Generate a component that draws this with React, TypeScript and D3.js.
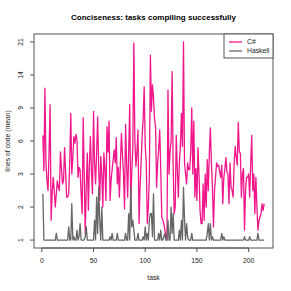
import * as d3 from 'd3';

const csharp = [
  6.5, 3.3, 12, 4, 2.8, 2.5, 5, 9.5, 1.6, 2.4,
  2.9, 2.5, 2.0, 2.4, 2.8, 2.6, 2.5, 5.0, 3.5, 2.7,
  2.8, 5.4, 3.2, 2.3, 2.3, 2.4, 4.0, 8.5, 3.0, 4.5,
  6.4, 5.8, 6.6, 6.1, 2.9, 3.6, 3.4, 2.4, 1.8, 8.1,
  3.0, 1.2, 2.6, 4.9, 1.9, 3.8, 6.4, 3.2, 2.4, 8.7,
  4.0, 2.7, 5.0, 8.2, 3.5, 2.2, 4.6, 3.0, 2.0, 4.9,
  3.5, 2.2, 7.3, 5.0, 7.8, 2.2, 2.8, 3.4, 4.3, 5.2,
  4.0, 6.3, 2.7, 3.6, 2.3, 4.0, 6.7, 4.7, 3.0, 1.95,
  7.5, 4.0, 2.3, 5.0, 9.5, 2.0, 3.2, 5.4, 20.8, 6.0,
  3.7, 5.0, 7.0, 1.5, 2.6, 4.0, 6.4, 8.0, 12.2, 5.5,
  4.0, 1.5, 2.0, 2.9, 18.2, 8.7, 12.5, 10.5, 8.0, 7.3,
  2.6, 4.0, 5.2, 7.0, 3.5, 1.7, 1.6, 1.5, 1.3, 1.1,
  1.0, 11.7, 3.0, 5.0, 6.0, 14.7, 3.8, 1.8, 2.0, 6.5,
  3.5, 2.3, 4.0, 5.5, 8.5, 5.5, 21, 4.0, 3.0, 2.7,
  4.0, 3.4, 3.4, 5.0, 9.0, 3.0, 7.8, 2.3, 3.5, 2.2,
  5.4, 3.0, 1.9, 1.5, 1.5, 2.7, 1.6, 3.0, 2.0, 4.3,
  2.5, 4.9, 7.2, 4.0, 2.6, 1.4, 2.5, 2.9, 4.0, 3.7,
  3.8, 3.2, 2.9, 3.8, 2.1, 2.9, 3.4, 4.5, 3.2, 3.0,
  2.1, 4.0, 2.6, 2.5, 2.3, 4.0, 5.5, 4.5, 3.8, 7.7,
  5.0, 4.9, 2.3, 3.0, 3.5, 1.3, 2.5, 2.9, 2.9, 3.0,
  2.3, 4.0, 6.5, 2.5, 3.0, 1.8, 2.9, 2.0, 1.3, 1.6,
  1.7, 1.8, 2.1, 1.9, 2.1,
];

const haskell = [
  2.4, 1, 1, 1, 1, 1, 1, 1, 1, 1,
  1, 1, 1, 1.2, 1, 1, 1, 1, 1, 1,
  1, 1, 1, 1, 1, 1.4, 1, 1, 2.1, 1,
  1.1, 1, 1, 1.3, 1, 1.1, 1.5, 1, 1, 1,
  1, 1.1, 1.4, 1, 1, 1, 1, 1, 1, 1,
  1.6, 1, 2.3, 1.2, 2.6, 1.6, 1, 2.0, 1, 1,
  1, 1, 1, 1, 1, 1.1, 1, 1.2, 1, 1,
  1, 1, 1.2, 1, 1, 1, 1, 1, 1, 1,
  1.2, 1, 1, 1.8, 1, 2.6, 1.4, 1.6, 1.3, 1,
  1, 1, 1.2, 1, 1, 1, 1, 1.1, 1, 1.4,
  1, 1.2, 1, 1.6, 1.8, 1.8, 1.1, 2.4, 1, 1,
  1, 1, 1.2, 1, 1.3, 1, 1, 1.1, 1.2, 1,
  1, 1.6, 1, 1, 2.0, 1.2, 1.8, 1, 1, 1,
  1, 1, 1.3, 1, 1.6, 1, 2.6, 1.6, 1, 1.5,
  1.1, 1, 1, 1, 1.2, 1, 1, 1, 1, 1,
  1, 1, 1, 1, 1, 1, 1, 1, 1, 1.2,
  1.5, 1, 1.5, 1, 1.1, 1, 1, 1, 1, 1,
  1, 1, 1, 1.2, 1, 1.1, 1, 1, 1, 1,
  1, 1, 1, 1, 1, 1, 1, 1, 1, 1,
  1, 1, 1, 1, 1, 1.1, 1, 1, 1, 1,
  1.1, 1, 1, 1, 1, 1, 1, 1, 1.2, 1,
  1, 1, 1, 1, 1,
];

const yTicks = [1, 2, 3, 6, 9, 14, 21];
const xTicks = [0, 50, 100, 150, 200];
const seriesNames = ['C#', 'Haskell'];
const seriesColors = ['#f0168c', '#666666'];

const W = 291;
const H = 291;
const box = { left: 34, right: 273, top: 34, bottom: 248 };
const font = '"Liberation Sans", Arial, sans-serif';

export default function App() {
  const n = csharp.length;
  const pad = 0.04 * (n - 1);
  const x = d3.scaleLinear().domain([1 - pad, n + pad]).range([box.left, box.right]);

  // ticks sit evenly spaced; the y scale is piecewise through them
  const yPad = (box.bottom - box.top) * 0.04 / 1.08;
  const yTop = box.top + yPad;
  const yBot = box.bottom - yPad;
  const step = (yBot - yTop) / (yTicks.length - 1);
  const y = d3
    .scaleLinear()
    .domain(yTicks)
    .range(yTicks.map((_, i) => yBot - i * step));

  const line = d3
    .line<number>()
    .x((_, i) => x(i + 1))
    .y((d) => y(d));

  const cx = (box.left + box.right) / 2;
  const cy = (box.top + box.bottom) / 2;

  return (
    <svg
      width={W}
      height={H}
      style={{ position: 'fixed', left: 0, top: 0, background: '#fff' }}
      fontFamily={font}
    >
      <rect width={W} height={H} fill="#fff" />
      <text x={cx} y={20} textAnchor="middle" fontSize={8} fontWeight="bold" fill="#000">
        Conciseness: tasks compiling successfully
      </text>

      <path d={line(csharp) ?? ''} fill="none" stroke={seriesColors[0]} strokeWidth={1.3} strokeLinejoin="round" />
      <path d={line(haskell) ?? ''} fill="none" stroke={seriesColors[1]} strokeWidth={1.3} strokeLinejoin="round" />

      <rect
        x={box.left}
        y={box.top}
        width={box.right - box.left}
        height={box.bottom - box.top}
        fill="none"
        stroke="#555"
        strokeWidth={1}
      />

      {/* x axis */}
      <line x1={x(xTicks[0])} x2={x(xTicks[xTicks.length - 1])} y1={box.bottom} y2={box.bottom} stroke="#555" />
      {xTicks.map((t) => (
        <g key={t}>
          <line x1={x(t)} x2={x(t)} y1={box.bottom} y2={box.bottom + 4} stroke="#555" />
          <text x={x(t)} y={box.bottom + 15} textAnchor="middle" fontSize={6.8} fill="#222">
            {t}
          </text>
        </g>
      ))}
      <text x={cx} y={280} textAnchor="middle" fontSize={6.8} fill="#222">
        task
      </text>

      {/* y axis */}
      {yTicks.map((t) => (
        <g key={t}>
          <line x1={box.left - 4} x2={box.left} y1={y(t)} y2={y(t)} stroke="#555" />
          <text
            transform={`translate(${box.left - 11},${y(t)}) rotate(-90)`}
            textAnchor="middle"
            fontSize={6.8}
            fill="#222"
          >
            {t}
          </text>
        </g>
      ))}
      <text
        transform={`translate(10,${cy}) rotate(-90)`}
        textAnchor="middle"
        fontSize={6.8}
        fill="#222"
      >
        lines of code (mean)
      </text>

      {/* legend */}
      <rect x={224} y={box.top} width={box.right - 224} height={24} fill="#fff" stroke="#555" />
      {seriesNames.map((s, i) => (
        <g key={s}>
          <line x1={229} x2={242} y1={42 + i * 9} y2={42 + i * 9} stroke={seriesColors[i]} strokeWidth={1.3} />
          <text x={247} y={44.3 + i * 9} fontSize={6.8} fill="#222">
            {s}
          </text>
        </g>
      ))}
    </svg>
  );
}
